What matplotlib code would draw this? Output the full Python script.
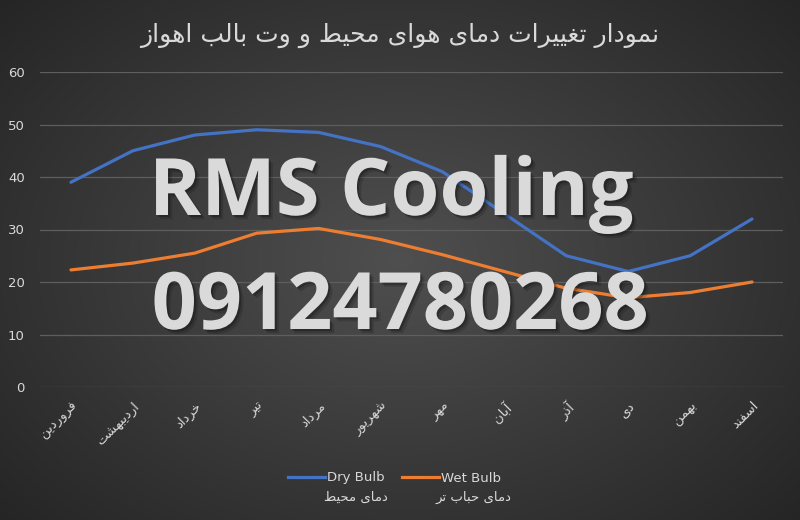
import numpy as np
import matplotlib
matplotlib.use("Agg")
import matplotlib.pyplot as plt
import matplotlib.patheffects as pe

# data
months = ['فروردین', 'اردیبهشت', 'خرداد', 'تیر', 'مرداد', 'شهریور',
          'مهر', 'آبان', 'آذر', 'دی', 'بهمن', 'اسفند']
dry_bulb = [39, 45, 48, 49, 48.5, 45.8, 41, 33, 25, 22, 25, 32]
wet_bulb = [22.3, 23.6, 25.5, 29.3, 30.2, 28.1, 25.2, 22, 18.8, 17, 18, 20]
y_ticks = [0, 10, 20, 30, 40, 50, 60]

title = 'نمودار تغییرات دمای هوای محیط و وت بالب اهواز'
dry_fa = 'دمای محیط'
wet_fa = 'دمای حباب تر'

# tiny arabic/persian shaper: (isolated, final, initial, medial)
FORMS = {
    'ا': ('\uFE8D', '\uFE8E', None, None),
    'آ': ('\uFE81', '\uFE82', None, None),
    'ب': ('\uFE8F', '\uFE90', '\uFE91', '\uFE92'),
    'ت': ('\uFE95', '\uFE96', '\uFE97', '\uFE98'),
    'ح': ('\uFEA1', '\uFEA2', '\uFEA3', '\uFEA4'),
    'خ': ('\uFEA5', '\uFEA6', '\uFEA7', '\uFEA8'),
    'د': ('\uFEA9', '\uFEAA', None, None),
    'ذ': ('\uFEAB', '\uFEAC', None, None),
    'ر': ('\uFEAD', '\uFEAE', None, None),
    'ز': ('\uFEAF', '\uFEB0', None, None),
    'س': ('\uFEB1', '\uFEB2', '\uFEB3', '\uFEB4'),
    'ش': ('\uFEB5', '\uFEB6', '\uFEB7', '\uFEB8'),
    'ط': ('\uFEC1', '\uFEC2', '\uFEC3', '\uFEC4'),
    'غ': ('\uFECD', '\uFECE', '\uFECF', '\uFED0'),
    'ف': ('\uFED1', '\uFED2', '\uFED3', '\uFED4'),
    'ل': ('\uFEDD', '\uFEDE', '\uFEDF', '\uFEE0'),
    'م': ('\uFEE1', '\uFEE2', '\uFEE3', '\uFEE4'),
    'ن': ('\uFEE5', '\uFEE6', '\uFEE7', '\uFEE8'),
    'ه': ('\uFEE9', '\uFEEA', '\uFEEB', '\uFEEC'),
    'و': ('\uFEED', '\uFEEE', None, None),
    'ی': ('\uFEEF', '\uFEF0', '\uFEF3', '\uFEF4'),
}


def fa(text):
    out = []
    for i, ch in enumerate(text):
        if ch not in FORMS:
            out.append(ch)
            continue
        prev = text[i - 1] if i > 0 else ''
        nxt = text[i + 1] if i + 1 < len(text) else ''
        join_prev = prev in FORMS and FORMS[prev][2] is not None
        join_next = FORMS[ch][2] is not None and nxt in FORMS
        iso, fin, ini, med = FORMS[ch]
        if join_prev and join_next:
            out.append(med)
        elif join_prev:
            out.append(fin)
        elif join_next:
            out.append(ini)
        else:
            out.append(iso)
    return ''.join(out)[::-1]


plt.rcParams['font.family'] = ['DejaVu Sans']
text_col = '#d9d9d9'

fig = plt.figure(figsize=(8, 5.2), dpi=100)

# radial gradient background
bg = fig.add_axes([0, 0, 1, 1], zorder=-10)
yy, xx = np.mgrid[0:520, 0:800]
r = np.sqrt(((xx - 400) / 560) ** 2 + ((yy - 260) / 400) ** 2)
shade = np.clip(0.31 - 0.17 * r, 0.14, 0.31)
bg.imshow(np.dstack([shade, shade, shade]), aspect='auto', extent=[0, 1, 0, 1])
bg.axis('off')

ax = fig.add_axes([40 / 800, (520 - 387) / 520, 743 / 800, 315 / 520])
ax.patch.set_alpha(0)
x = np.arange(len(months))
ax.plot(x, dry_bulb, color='#4472c4', lw=2.3, solid_capstyle='round', zorder=3)
ax.plot(x, wet_bulb, color='#ed7d31', lw=2.3, solid_capstyle='round', zorder=3)

ax.set_xlim(-0.5, len(months) - 0.5)
ax.set_ylim(0, 60)
ax.set_yticks(y_ticks)
ax.grid(axis='y', color='#5e5e5e', lw=0.9)
ax.set_axisbelow(True)
for s in ax.spines.values():
    s.set_visible(False)
ax.tick_params(length=0, colors=text_col, labelsize=9.5)
ax.tick_params(axis='y', pad=11)
ax.set_xticks(x)
ax.set_xticklabels([fa(m) for m in months], rotation=45, ha='right',
                   va='top', rotation_mode='anchor', fontsize=9.5)
ax.tick_params(axis='x', pad=9)

fig.text(0.5, 1 - 35 / 520, fa(title), ha='center', va='center',
         color=text_col, fontsize=18)

# legend
h_dry, = ax.plot([], [], color='#4472c4', lw=2.3)
h_wet, = ax.plot([], [], color='#ed7d31', lw=2.3)
ax.legend([h_dry, h_wet], ['Dry Bulb', 'Wet Bulb'], loc='center',
          bbox_to_anchor=(0.493, 1 - 478 / 520), bbox_transform=fig.transFigure,
          ncol=2, frameon=False, fontsize=9.5, labelcolor=text_col,
          handlelength=2.8, handletextpad=0.15, columnspacing=1.3)
fig.text(388 / 800, 1 - 497 / 520, fa(dry_fa), ha='right', va='center',
         color=text_col, fontsize=9.5)
fig.text(511 / 800, 1 - 497 / 520, fa(wet_fa), ha='right', va='center',
         color=text_col, fontsize=9.5)

# watermark with a soft drop shadow
shadow = [pe.SimplePatchShadow(offset=(3, -3), shadow_rgbFace='black', alpha=0.15),
          pe.SimplePatchShadow(offset=(1.5, -1.5), shadow_rgbFace='black', alpha=0.25),
          pe.Normal()]
fig.text(391 / 800, 1 - 215 / 520, 'RMS Cooling', ha='center', va='baseline',
         color='#dadada', fontsize=57, fontfamily='Open Sans', fontweight='bold',
         path_effects=shadow, zorder=10)
fig.text(400 / 800, 1 - 329 / 520, '09124780268', ha='center', va='baseline',
         color='#dadada', fontsize=57, fontfamily='Open Sans', fontweight='bold',
         path_effects=shadow, zorder=10)

fig.savefig('out.png', dpi=100)
